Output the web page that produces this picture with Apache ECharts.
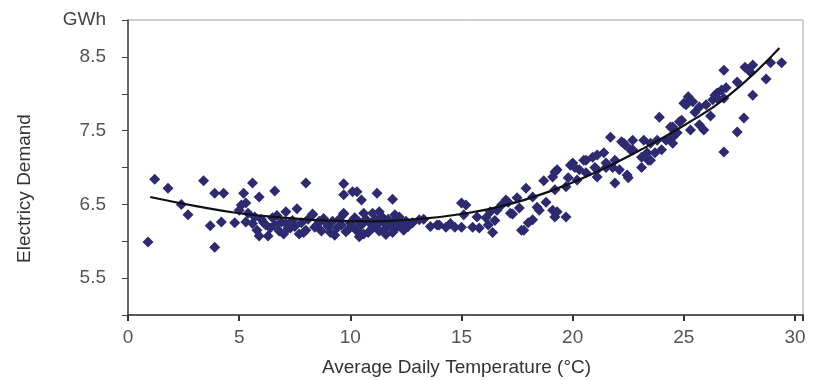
<!DOCTYPE html>
<html>
<head>
<meta charset="utf-8">
<script src="https://cdn.jsdelivr.net/npm/echarts@6/dist/echarts.min.js"></script>
<style>html,body{margin:0;padding:0;background:#fff}#c{width:813px;height:380px}</style>
</head>
<body>
<div id="c"></div>
<script>
// Average daily temperature (°C)
var temps = [
 0.9,1.2,1.8,2.4,2.7,3.4,3.9,4.3,3.7,4.2,3.9,4.8,
 5.2,5.6,5.3,5.9,6.6,5.3,5.0,5.9,6.3,6.1,6.4,7.1,7.2,5.1,5.4,6.2,6.6,7.6,7.3,8.0,8.3,8.4,8.9,9.3,9.7,10.0,9.8,8.0,9.7,9.7,8.3,9.7,
 5.6,5.8,6.0,6.5,6.8,6.9,7.0,7.4,7.5,7.8,7.9,8.1,8.5,8.7,8.8,9.0,9.1,9.2,9.4,9.5,9.6,9.9,6.7,7.7,8.6,5.7,7.1,
 10.1,10.3,10.5,11.2,11.9,10.6,11.0,10.4,13.1,13.3,13.9,14.3,14.7,14.0,15.0,15.1,
 10.1,10.2,10.3,10.4,10.5,10.7,10.8,10.9,11.0,11.1,11.2,11.3,11.4,11.5,11.6,11.7,11.8,11.9,12.0,12.1,12.2,12.3,12.4,12.5,12.6,12.8,11.3,10.6,11.6,12.0,13.6,14.5,
 15.2,15.0,15.7,16.1,15.5,15.8,16.2,16.6,16.8,17.3,17.1,17.5,17.9,18.2,17.8,18.0,18.2,18.5,18.8,19.1,19.2,18.7,19.2,19.9,19.7,19.2,16.3,17.0,17.2,17.7,18.4,19.3,19.1,19.3,19.7,16.5,17.6,16.4,
 20.0,20.3,20.6,20.9,21.0,21.4,21.5,23.9,24.5,24.9,25.0,21.7,22.2,22.35,22.7,23.2,23.5,23.1,23.4,24.2,24.0,24.5,20.1,20.5,21.1,19.8,20.6,21.1,21.5,21.9,21.8,22.1,22.45,21.9,22.5,21.1,20.2,23.1,23.5,23.7,24.4,24.8,24.7,24.5,23.8,22.3,22.6,23.35,22.7,24.6,
 25.2,25.4,25.1,25.7,25.3,25.9,25.7,26.8,27.75,28.1,28.0,28.9,29.4,28.7,28.1,27.7,27.4,26.8,27.4,26.7,26.5,26.9,26.5,26.8,26.3,26.4,25.5,26.0,26.2
];
// Electricity demand (GWh)
var demand = [
 5.99,6.84,6.72,6.50,6.36,6.82,6.65,6.65,6.21,6.26,5.92,6.25,
 6.65,6.79,6.26,6.60,6.68,6.52,6.42,6.07,6.07,6.25,6.18,6.40,6.18,6.49,6.38,6.22,6.22,6.44,6.18,6.15,6.36,6.19,6.25,6.08,6.38,6.25,6.13,6.79,6.78,6.63,6.37,6.37,
 6.24,6.15,6.30,6.32,6.14,6.26,6.10,6.28,6.20,6.25,6.12,6.30,6.22,6.14,6.31,6.20,6.12,6.27,6.18,6.30,6.22,6.16,6.35,6.10,6.27,6.33,6.24,
 6.67,6.67,6.56,6.65,6.57,6.38,6.38,6.06,6.29,6.30,6.22,6.19,6.19,6.22,6.52,6.36,
 6.20,6.32,6.14,6.26,6.22,6.30,6.12,6.24,6.18,6.30,6.22,6.14,6.34,6.26,6.18,6.30,6.22,6.12,6.28,6.19,6.33,6.24,6.15,6.27,6.20,6.25,6.40,6.10,6.09,6.36,6.20,6.24,
 6.49,6.19,6.33,6.32,6.19,6.18,6.22,6.42,6.49,6.37,6.53,6.59,6.72,6.60,6.15,6.25,6.29,6.42,6.53,6.42,6.33,6.82,6.94,7.03,6.74,6.70,6.40,6.56,6.38,6.15,6.46,6.40,6.87,6.97,6.33,6.28,6.45,6.12,
 7.06,6.97,7.10,7.14,7.00,7.20,7.06,7.68,7.55,7.64,7.87,7.41,7.35,7.31,7.24,7.37,7.33,7.14,7.10,7.37,7.24,7.33,7.00,7.10,7.17,6.86,6.93,6.97,7.00,7.10,7.00,6.97,6.90,6.79,6.86,6.87,6.83,7.00,7.10,7.20,7.55,7.62,7.47,7.41,7.37,7.33,7.24,7.20,7.37,7.47,
 7.96,7.89,7.85,7.82,7.51,7.51,7.58,8.32,8.36,8.39,8.29,8.42,8.42,8.20,7.98,7.67,7.48,7.21,8.16,8.05,8.01,8.08,7.94,7.94,7.92,7.98,7.75,7.85,7.70
];
// Trend curve
var trendT = [1, 3, 5, 7, 9, 11, 13, 15, 17, 19, 21, 23, 25, 27, 29.3];
var trendV = [6.60, 6.48, 6.38, 6.32, 6.28, 6.27, 6.30, 6.37, 6.49, 6.68, 6.93, 7.23, 7.57, 7.97, 8.62];
var yLabels = [5.5, 6.5, 7.5, 8.5];
var yUnit = 'GWh';

var pts = temps.map(function (t, i) { return [t, demand[i]]; });
var trend = trendT.map(function (t, i) { return [t, trendV[i]]; });

var chart = echarts.init(document.getElementById('c'));
var font = 'Liberation Sans, Arial, sans-serif';
chart.setOption({
  animation: false,
  backgroundColor: '#fff',
  grid: { left: 128, top: 20, right: 10, bottom: 65, show: true, borderColor: '#a0a0a0', borderWidth: 1, containLabel: false, outerBoundsMode: 'none' },
  xAxis: {
    type: 'value', min: 0, max: 30.36, interval: 5,
    name: 'Average Daily Temperature (°C)', nameLocation: 'middle', nameGap: 43,
    nameTextStyle: { fontFamily: font, fontSize: 19, color: '#333', padding: [0, 18, 0, 0] },
    axisLine: { show: true, lineStyle: { color: '#333', width: 1.5 } },
    axisTick: { show: true, inside: false, length: 6, lineStyle: { color: '#333', width: 2 } },
    axisLabel: {
      margin: 13, fontFamily: font, fontSize: 19, color: '#555',
      formatter: function (v) { return (Math.abs(v % 5) < 1e-6) ? String(v) : ''; }
    },
    splitLine: { show: false }
  },
  yAxis: {
    type: 'value', min: 5, max: 9, interval: 0.5,
    name: 'Electricy Demand', nameLocation: 'middle', nameGap: 94, nameRotate: 90,
    nameTextStyle: { fontFamily: font, fontSize: 19, color: '#333', padding: [0, 42, 0, 0] },
    axisLine: { show: true, lineStyle: { color: '#444', width: 1.5 } },
    axisTick: { show: true, inside: false, length: 6, lineStyle: { color: '#444', width: 1 } },
    axisLabel: {
      margin: 22, fontFamily: font, fontSize: 19, color: '#555',
      formatter: function (v) {
        if (Math.abs(v - 9) < 1e-6) return '{u|' + yUnit + '}';
        for (var i = 0; i < yLabels.length; i++) if (Math.abs(v - yLabels[i]) < 1e-6) return yLabels[i].toFixed(1);
        return '';
      },
      rich: { u: { fontFamily: font, fontSize: 19, color: '#444' } }
    },
    splitLine: { show: false }
  },
  series: [
    {
      type: 'scatter', data: pts, symbol: 'diamond', symbolSize: [11, 11],
      itemStyle: { color: '#2e2a70', opacity: 1 }, z: 2
    },
    {
      type: 'line', data: trend, smooth: true, symbol: 'none',
      lineStyle: { color: '#111', width: 2.2 }, z: 3
    }
  ]
});
</script>
</body>
</html>
